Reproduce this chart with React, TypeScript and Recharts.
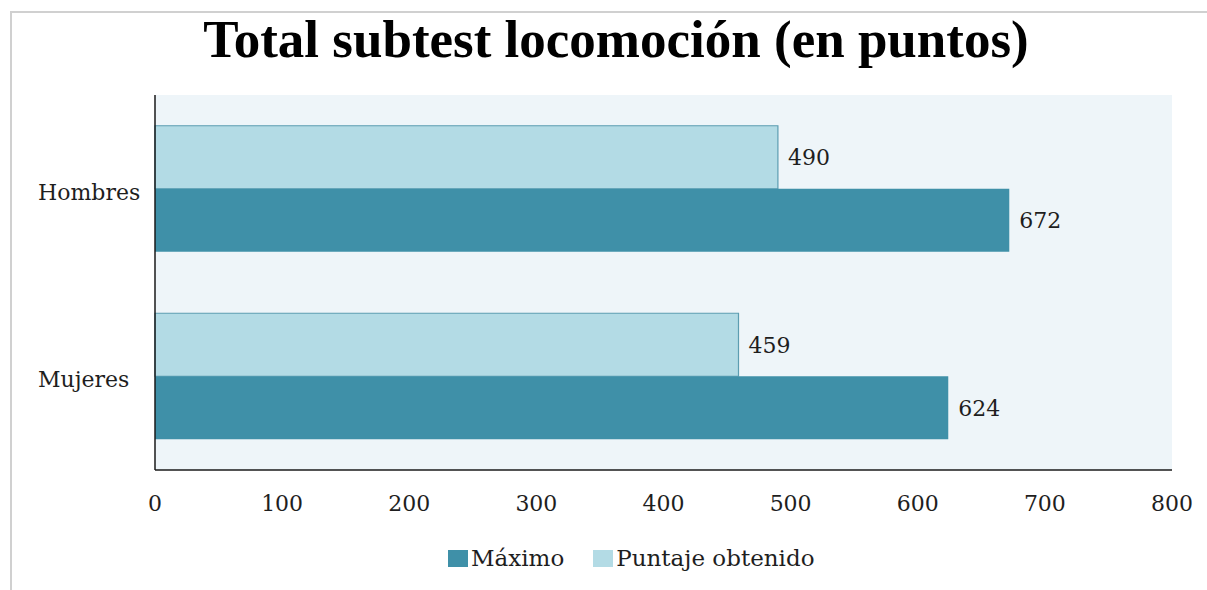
import { BarChart, Bar, XAxis, YAxis, CartesianGrid, LabelList } from 'recharts';

const categories = ['Hombres', 'Mujeres'];
const puntajeObtenido = [490, 459];
const maximo = [672, 624];
const xTicks = [0, 100, 200, 300, 400, 500, 600, 700, 800];

const seriesNames = { puntaje: 'Puntaje obtenido', maximo: 'Máximo' };
const legendOrder = [
  { name: seriesNames.maximo, color: '#3f90a8' },
  { name: seriesNames.puntaje, color: '#b3dbe5' },
];

const data = categories.map((c, i) => ({
  name: c,
  puntaje: puntajeObtenido[i],
  maximo: maximo[i],
}));

const SERIF = '"DejaVu Serif", "Liberation Serif", serif';
const TEXT = '#1e1e1e';

const CategoryTick = (props: any) => {
  const { y, payload } = props;
  return (
    <text x={38} y={y + 3} dy="0.36em" textAnchor="start" fontFamily={SERIF} fontSize={22} fill={TEXT}>
      {payload.value}
    </text>
  );
};

export default function App() {
  return (
    <div style={{ position: 'absolute', left: 0, top: 0, width: 1207, height: 590, background: '#fff', overflow: 'hidden' }}>
      <div
        style={{
          position: 'absolute', left: 10, top: 11, width: 1300, height: 700,
          borderTop: '2px solid #d0d0d0', borderLeft: '2px solid #d0d0d0',
        }}
      />
      <div
        style={{
          position: 'absolute', left: 0, top: 13, width: 1232, textAlign: 'center',
          fontFamily: '"Liberation Serif", serif', fontWeight: 'bold', fontSize: 53, lineHeight: '53px', color: '#000',
        }}
      >
        Total subtest locomoción (en puntos)
      </div>
      <div style={{ position: 'absolute', left: 0, top: 0 }}>
        <BarChart
          width={1207}
          height={590}
          data={data}
          layout="vertical"
          margin={{ top: 95, right: 35, bottom: 80, left: 0 }}
          barCategoryGap="16.4%"
          barGap={0}
        >
          <CartesianGrid horizontal={false} vertical={false} fill="#eef5f9" stroke="none" />
          <XAxis
            type="number"
            domain={[0, 800]}
            ticks={xTicks}
            height={40}
            tickLine={false}
            tickSize={0}
            tickMargin={25}
            axisLine={{ stroke: '#1a1a1a', strokeWidth: 1.5 }}
            tick={{ fontFamily: SERIF, fontSize: 22, fill: TEXT }}
            interval={0}
          />
          <YAxis
            type="category"
            dataKey="name"
            width={155}
            tickLine={false}
            axisLine={{ stroke: '#1a1a1a', strokeWidth: 1.5 }}
            tick={<CategoryTick />}
          />
          <Bar dataKey="puntaje" name={seriesNames.puntaje} fill="#b3dbe5" stroke="#5c9db1" strokeWidth={1.2} isAnimationActive={false}>
            <LabelList dataKey="puntaje" position="right" offset={10} fill={TEXT} fontSize={22} fontFamily={SERIF} />
          </Bar>
          <Bar dataKey="maximo" name={seriesNames.maximo} fill="#3f90a8" isAnimationActive={false}>
            <LabelList dataKey="maximo" position="right" offset={10} fill={TEXT} fontSize={22} fontFamily={SERIF} />
          </Bar>
        </BarChart>
      </div>
      <div
        style={{
          position: 'absolute', left: 448, top: 547, display: 'flex', alignItems: 'center',
          fontFamily: SERIF, fontSize: 23, lineHeight: '23px', color: TEXT,
        }}
      >
        {legendOrder.map((item, i) => (
          <div key={item.name} style={{ display: 'flex', alignItems: 'center', marginRight: i === 0 ? 29 : 0 }}>
            <span style={{ display: 'inline-block', width: 20, height: 17, background: item.color, marginRight: 3 }} />
            <span>{item.name}</span>
          </div>
        ))}
      </div>
    </div>
  );
}
